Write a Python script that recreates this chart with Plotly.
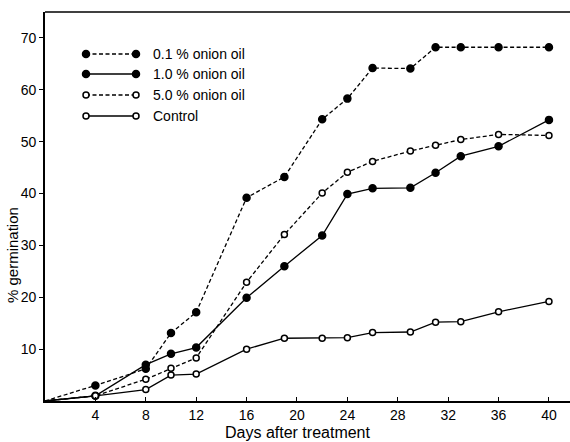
import plotly.graph_objects as go

days = [0, 4, 8, 10, 12, 16, 19, 22, 24, 26, 29, 31, 33, 36, 40]
oil_01 = [0, 3.0, 6.2, 13.1, 17.1, 39.2, 43.2, 54.3, 58.3, 64.2, 64.1, 68.2, 68.2, 68.2, 68.2]
oil_10 = [0, 1.0, 7.0, 9.1, 10.3, 19.9, 26.0, 31.9, 39.9, 41.0, 41.1, 44.0, 47.2, 49.1, 54.2]
oil_50 = [0, 1.0, 4.2, 6.3, 8.3, 22.9, 32.1, 40.1, 44.1, 46.2, 48.2, 49.3, 50.4, 51.4, 51.2]
control = [0, 1.0, 2.2, 5.0, 5.2, 10.0, 12.1, 12.1, 12.2, 13.2, 13.3, 15.2, 15.3, 17.2, 19.2]

names = ["0.1 % onion oil", "1.0 % onion oil", "5.0 % onion oil", "Control"]
series = [oil_01, oil_10, oil_50, control]
filled = [True, True, False, False]
dashed = [True, False, True, False]

x_ticks = [4, 8, 12, 16, 20, 24, 28, 32, 36, 40]
y_ticks = [10, 20, 30, 40, 50, 60, 70]

FONT = "Liberation Sans"
DASH = "4px,2.5px"
fig = go.Figure()
for name, ys, f, d in zip(names, series, filled, dashed):
    fig.add_trace(go.Scatter(
        x=days, y=ys, mode="lines", name=name, showlegend=False,
        line=dict(color="black", width=1.3, dash=DASH if d else "solid"),
    ))
for name, ys, f, d in zip(names, series, filled, dashed):
    # markers for all observations after the origin
    fig.add_trace(go.Scatter(
        x=days[1:], y=ys[1:], mode="markers", name=name, showlegend=False,
        marker=dict(symbol="circle", size=7 if f else 6,
                    color="black" if f else "white",
                    line=dict(color="black", width=1.5)),
    ))

# manual legend (line sample with a marker at each end), paper coords
W, H = 525.0, 389.0
L, T = 45.0, 12.0
def px(xp):
    return (xp - L) / W
def py(yp):
    return 1 - (yp - T) / H

rows = [54, 74, 95, 116]
for name, f, d, r in zip(names, filled, dashed, rows):
    fig.add_shape(type="line", xref="paper", yref="paper",
                  x0=px(86), x1=px(136), y0=py(r), y1=py(r),
                  line=dict(color="black", width=1.3, dash=DASH if d else "solid"))
    for xe in (86, 136):
        rad = 3.5 if f else 3
        fig.add_shape(type="circle", xref="paper", yref="paper",
                      xsizemode="pixel", ysizemode="pixel",
                      xanchor=px(xe), yanchor=py(r),
                      x0=-rad, x1=rad, y0=-rad, y1=rad,
                      fillcolor="black" if f else "white",
                      line=dict(color="black", width=1.5))
    fig.add_annotation(xref="paper", yref="paper", x=px(151), y=py(r),
                       text=name, showarrow=False, xanchor="left", yanchor="middle",
                       font=dict(family=FONT, size=14, color="black"))

# axis titles as annotations
fig.add_annotation(xref="paper", yref="paper", x=px(298), y=py(432),
                   text="Days after treatment", showarrow=False,
                   xanchor="center", yanchor="middle",
                   font=dict(family=FONT, size=16, color="black"))
fig.add_annotation(xref="paper", yref="paper", x=px(13), y=py(255),
                   text="% germination", showarrow=False, textangle=-90,
                   xanchor="center", yanchor="middle",
                   font=dict(family=FONT, size=15, color="black"))

fig.update_layout(
    width=570, height=442,
    margin=dict(l=45, r=0, t=12, b=41, autoexpand=False),
    plot_bgcolor="white", paper_bgcolor="white",
    font=dict(family=FONT, size=13, color="black"),
    xaxis=dict(range=[0, 41.67], tickvals=x_ticks, ticks="inside", ticklen=4,
               tickwidth=1.2, tickcolor="black", showgrid=False, zeroline=False,
               showline=True, linecolor="black", linewidth=1.6, automargin=False,
               tickfont=dict(family=FONT, size=14, color="black")),
    yaxis=dict(range=[0, 75], tickvals=y_ticks, ticks="outside", ticklen=4,
               tickwidth=1.2, tickcolor="black", showgrid=False, zeroline=False,
               showline=True, linecolor="black", linewidth=1.6, automargin=False,
               tickfont=dict(family=FONT, size=14, color="black")),
)
# top border
fig.add_shape(type="line", xref="paper", yref="paper", x0=0, x1=1, y0=1, y1=1,
              line=dict(color="black", width=1.6))

fig.write_html("out.html", config={"displayModeBar": False},
               post_script="document.body.style.margin='0';document.body.style.overflow='hidden';")
